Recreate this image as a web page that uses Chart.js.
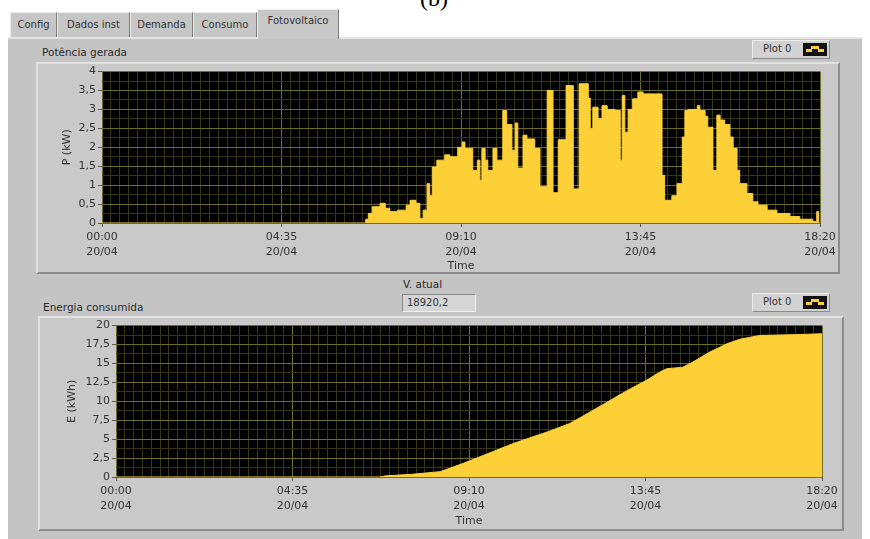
<!DOCTYPE html>
<html>
<head>
<meta charset="utf-8">
<script src="https://cdn.jsdelivr.net/npm/chart.js@4.4.1/dist/chart.umd.min.js"></script>
<style>
body { margin:0; width:870px; height:539px; background:#fff; overflow:hidden; position:relative;
       font-family:"DejaVu Sans", sans-serif; font-size:11px; color:#333; }
.abs { position:absolute; }
#fig { left:420px; top:-15px; font-family:"Liberation Serif", serif; font-size:24px; color:#000; }
.tab { position:absolute; top:12px; height:25px; background:#c6c6c6; border:1px solid #ececec;
       border-right-color:#7a7a7a; border-bottom:none; line-height:24px; text-align:center; font-size:10px; color:#333; }
.tab.sel { top:9px; height:29px; background:#c8c8c8; line-height:22px; z-index:3; }
#panel { left:8px; top:37px; width:854px; height:502px; background:#c4c4c4; border-top:2px solid #e4e4e4; }
.frame { background:#c9c9c9; border:2px solid; border-color:#e2e2e2 #8c8c8c #8c8c8c #e2e2e2; box-sizing:border-box; }
.label { font-size:10.5px; color:#2a2a2a; }
.legend { background:#d2d2d2; border:1px solid; border-color:#ededed #8a8a8a #8a8a8a #ededed; box-sizing:border-box; font-size:10px; }
.legend span { position:absolute; left:10px; top:2px; }
.icon { position:absolute; left:50px; top:2px; width:24px; height:13px; background:#111; }
.icon i { position:absolute; background:#fdd037; }
#vbox { left:402px; top:294px; width:74px; height:18px; background:#d6d6d6; border:1px solid;
        border-color:#8a8a8a #efefef #efefef #8a8a8a; box-sizing:border-box; font-size:10px; padding:2px 4px; }
canvas { position:absolute; }
</style>
</head>
<body>
<div class="abs" id="fig">(b)</div>
<div class="tab" style="left:10px;width:45px">Config</div>
<div class="tab" style="left:57px;width:71px">Dados inst</div>
<div class="tab" style="left:130px;width:61px">Demanda</div>
<div class="tab" style="left:193px;width:62px">Consumo</div>
<div class="tab sel" style="left:257px;width:80px">Fotovoltaico</div>
<div class="abs" id="panel"></div>

<div class="abs label" style="left:42px;top:46px">Potência gerada</div>
<div class="abs legend" style="left:752px;top:40px;width:78px;height:19px"><span>Plot 0</span>
  <div class="icon"><i style="left:3px;top:6px;width:6px;height:3px"></i><i style="left:8px;top:3px;width:8px;height:3px"></i><i style="left:15px;top:6px;width:6px;height:3px"></i></div></div>
<div class="abs frame" style="left:36px;top:62px;width:804px;height:212px"></div>
<canvas id="power" width="804" height="210" style="left:36px;top:63px"></canvas>

<div class="abs label" style="left:403px;top:278px">V. atual</div>
<div class="abs" id="vbox">18920,2</div>
<div class="abs label" style="left:43px;top:301px">Energia consumida</div>
<div class="abs legend" style="left:752px;top:293px;width:78px;height:19px"><span>Plot 0</span>
  <div class="icon"><i style="left:3px;top:6px;width:6px;height:3px"></i><i style="left:8px;top:3px;width:8px;height:3px"></i><i style="left:15px;top:6px;width:6px;height:3px"></i></div></div>
<div class="abs frame" style="left:38px;top:316px;width:806px;height:215px"></div>
<canvas id="energy" width="803" height="213" style="left:40px;top:317px"></canvas>

<script>
// time in minutes since 00:00 of 20/04
const timeLabels = ['00:00', '04:35', '09:10', '13:45', '18:20'];
const dateLabel = '20/04';

// Potência gerada (kW), step changes
const powerTimes = [0, 404, 408, 414, 426, 434, 441, 453, 466, 472, 481, 487, 492, 498, 502, 506, 513, 525, 533,
  545, 552, 556, 568, 575, 579, 582, 587, 591, 599, 605, 614, 620, 628, 633, 637, 645, 651, 663, 671, 682, 691,
  699, 711, 722, 731, 745, 748, 752, 760, 766, 774, 786, 794, 797, 801, 806, 813, 821, 829, 858, 862, 873, 881,
  889, 893, 898, 912, 916, 924, 928, 936, 942, 947, 954, 962, 967, 973, 977, 988, 997, 1005, 1019, 1034, 1054,
  1069, 1089, 1095, 1098, 1100];
const powerValues = [0, 0.1, 0.25, 0.43, 0.52, 0.39, 0.30, 0.34, 0.47, 0.6, 0.52, 0.12, 0.34, 1.04, 0.72, 1.48, 1.66, 1.8, 1.75,
  2.0, 2.14, 1.97, 1.39, 1.66, 1.13, 1.97, 1.66, 1.39, 1.97, 1.66, 2.97, 2.6, 1.92, 2.64, 1.45, 2.32, 2.22, 1.97, 0.96, 3.5, 0.8,
  2.2, 3.63, 0.9, 3.68, 3.3, 2.5, 3.06, 2.76, 3.1, 3.0, 2.97, 1.66, 3.37, 2.4, 3.0, 3.28, 3.46, 3.41, 1.26, 0.6, 0.72, 1.04,
  2.27, 2.97, 3.0, 3.1, 2.97, 2.82, 2.53, 1.39, 2.85, 2.72, 2.6, 2.27, 1.97, 1.39, 1.04, 0.78, 0.56, 0.47, 0.34, 0.25, 0.17,
  0.1, 0.04, 0.3, 0, 0];

// Energia consumida (kWh)
const energyTimes = [0, 411, 420, 460, 505, 541, 567, 619, 672, 707, 743, 796, 827, 848, 858, 883, 899, 925, 952, 972, 1003, 1055, 1100];
const energyValues = [0, 0, 0.15, 0.35, 0.7, 1.8, 2.67, 4.43, 5.96, 7.06, 8.8, 11.4, 12.8, 13.9, 14.3, 14.5, 15.2, 16.5, 17.6, 18.2, 18.7, 18.8, 18.92];

const YELLOW = '#fdd037';
const MAJOR = '#6e6e22';
const MINOR = '#363611';
const TEXT = '#333';

const plotBg = {
    id: 'plotBg',
    beforeDraw(chart) {
        const { ctx, chartArea: a } = chart;
        ctx.save();
        ctx.fillStyle = '#000';
        ctx.fillRect(a.left, a.top, a.width, a.height);
        ctx.restore();
    }
};

function toPoints(xs, ys) {
    return xs.map((x, i) => ({ x: x, y: ys[i] }));
}

function createGraph(canvasId, xs, ys, opts) {
    return new Chart(document.getElementById(canvasId), {
        type: 'line',
        data: {
            datasets: [{
                data: toPoints(xs, ys),
                borderColor: YELLOW,
                backgroundColor: YELLOW,
                borderWidth: 1,
                pointRadius: 0,
                fill: 'origin',
                stepped: opts.stepped
            }]
        },
        options: {
            responsive: false,
            animation: false,
            layout: { padding: { top: 8, right: opts.padRight, left: 0, bottom: 0 } },
            plugins: { legend: { display: false }, tooltip: { enabled: false } },
            scales: {
                x: {
                    type: 'linear',
                    min: 0,
                    max: 1100,
                    afterFit: s => { s.height = opts.xHeight; },
                    border: { display: false },
                    grid: {
                        color: c => c.index % 20 === 0 ? MAJOR : MINOR,
                        tickColor: c => c.index % 20 === 0 ? '#555' : 'rgba(0,0,0,0)',
                        tickLength: 4
                    },
                    ticks: {
                        stepSize: 13.75,
                        autoSkip: false,
                        maxRotation: 0,
                        minRotation: 0,
                        padding: 3,
                        color: TEXT,
                        font: { family: 'DejaVu Sans', size: 11, lineHeight: 1.35 },
                        callback: (v, i) => i % 20 === 0 ? [timeLabels[i / 20], dateLabel] : ''
                    },
                    title: {
                        display: true,
                        text: 'Time',
                        color: TEXT,
                        padding: { top: 0, bottom: opts.timePad },
                        font: { family: 'DejaVu Sans', size: 11 }
                    }
                },
                y: {
                    min: 0,
                    max: opts.yMax,
                    afterFit: s => { s.width = opts.yWidth; },
                    border: { display: false },
                    grid: {
                        color: c => c.index % 2 === 0 ? MAJOR : MINOR,
                        tickColor: c => c.index % 2 === 0 ? '#555' : 'rgba(0,0,0,0)',
                        tickLength: 4
                    },
                    ticks: {
                        stepSize: opts.yStep,
                        autoSkip: false,
                        padding: 2,
                        color: TEXT,
                        font: { family: 'DejaVu Sans', size: 11 },
                        callback: (v, i) => i % 2 === 0 ? String(v).replace('.', ',') : ''
                    },
                    title: {
                        display: true,
                        text: opts.yTitle,
                        color: TEXT,
                        padding: { top: opts.yTitlePad, bottom: 0 },
                        font: { family: 'DejaVu Sans', size: 11 }
                    }
                }
            }
        },
        plugins: [plotBg]
    });
}

createGraph('power', powerTimes, powerValues, {
    stepped: true, padRight: 20, xHeight: 50, timePad: 0,
    yMax: 4, yStep: 0.25, yWidth: 66, yTitle: 'P (kW)', yTitlePad: 25
});
createGraph('energy', energyTimes, energyValues, {
    stepped: false, padRight: 21, xHeight: 53, timePad: 2,
    yMax: 20, yStep: 1.25, yWidth: 76, yTitle: 'E (kWh)', yTitlePad: 26
});
</script>
</body>
</html>
